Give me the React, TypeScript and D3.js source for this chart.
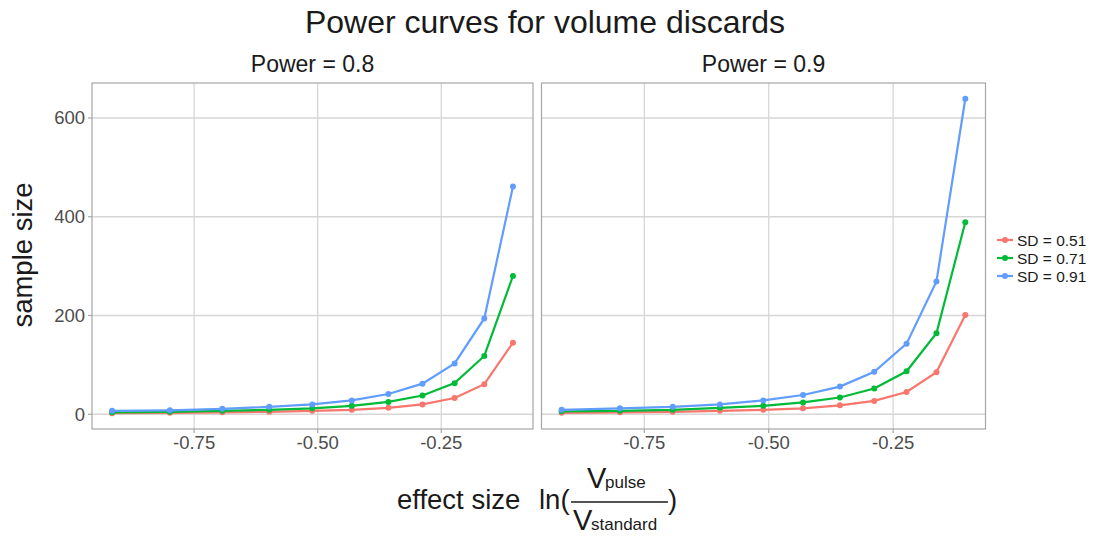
import React from "react";
import * as d3 from "d3";

const effectSizes = [-0.916, -0.799, -0.693, -0.598, -0.511, -0.431, -0.357, -0.288, -0.223, -0.163, -0.105];
const panels = ["Power = 0.8", "Power = 0.9"];
const seriesNames = ["SD = 0.51", "SD = 0.71", "SD = 0.91"];
const p08sd051 = [2, 3, 4, 5, 7, 9, 13, 20, 33, 61, 145];
const p08sd071 = [4, 5, 7, 9, 12, 17, 25, 38, 63, 118, 280];
const p08sd091 = [7, 8, 11, 15, 20, 28, 41, 62, 103, 194, 461];
const p09sd051 = [3, 4, 5, 7, 9, 12, 18, 27, 45, 85, 201];
const p09sd071 = [6, 7, 9, 13, 17, 24, 34, 52, 87, 164, 389];
const p09sd091 = [9, 12, 15, 20, 28, 39, 56, 86, 143, 269, 639];
const xTicks = [-0.75, -0.5, -0.25];
const yTicks = [0, 200, 400, 600];
const colors = ["#F8766D", "#00BA38", "#619CFF"];

const panelData = [
  [p08sd051, p08sd071, p08sd091],
  [p09sd051, p09sd071, p09sd091],
];

const FONT = "'Liberation Sans', Arial, Helvetica, sans-serif";

export default function App() {
  const top = 83;
  const bottom = 429;
  const panelRanges: [number, number][] = [
    [92, 533],
    [541.5, 985.5],
  ];
  const xExt = d3.extent(effectSizes) as [number, number];
  const xPad = (xExt[1] - xExt[0]) * 0.05;
  const allY = panelData.flat(2);
  const yExt = d3.extent(allY) as [number, number];
  const yPad = (yExt[1] - yExt[0]) * 0.05;
  const y = d3.scaleLinear().domain([yExt[0] - yPad, yExt[1] + yPad]).range([bottom, top]);
  const fmt = (v: number) => d3.format(".2f")(v).replace("\u2212", "-");

  return (
    <svg
      width={1112}
      height={538}
      style={{ position: "absolute", left: 0, top: 0, background: "#fff" }}
      fontFamily={FONT}
    >
      <rect width={1112} height={538} fill="#fff" />
      <text x={545} y={33} fontSize={32} textAnchor="middle" fill="#1a1a1a">
        Power curves for volume discards
      </text>
      {panelData.map((series, pi) => {
        const [x0, x1] = panelRanges[pi];
        const x = d3.scaleLinear().domain([xExt[0] - xPad, xExt[1] + xPad]).range([x0, x1]);
        const line = d3
          .line<number>()
          .x((_, i) => x(effectSizes[i]))
          .y((d) => y(d));
        return (
          <g key={pi}>
            <text x={(x0 + x1) / 2} y={72} fontSize={23} textAnchor="middle" fill="#1a1a1a">
              {panels[pi]}
            </text>
            {yTicks.map((t) => (
              <line key={"gy" + t} x1={x0} x2={x1} y1={y(t)} y2={y(t)} stroke="#d6d6d6" strokeWidth={1.3} />
            ))}
            {xTicks.map((t) => (
              <line key={"gx" + t} x1={x(t)} x2={x(t)} y1={top} y2={bottom} stroke="#d6d6d6" strokeWidth={1.3} />
            ))}
            {series.map((vals, si) => (
              <g key={si}>
                <path d={line(vals) || ""} fill="none" stroke={colors[si]} strokeWidth={2.2} />
                {vals.map((v, i) => (
                  <circle key={i} cx={x(effectSizes[i])} cy={y(v)} r={3} fill={colors[si]} />
                ))}
              </g>
            ))}
            <rect x={x0} y={top} width={x1 - x0} height={bottom - top} fill="none" stroke="#a6a6a6" strokeWidth={1.2} />
            {xTicks.map((t) => (
              <g key={"tx" + t}>
                <line x1={x(t)} x2={x(t)} y1={bottom} y2={bottom + 4} stroke="#a6a6a6" strokeWidth={1.2} />
                <text x={x(t)} y={449} fontSize={18.5} textAnchor="middle" fill="#4d4d4d">
                  {fmt(t)}
                </text>
              </g>
            ))}
          </g>
        );
      })}
      {yTicks.map((t) => (
        <g key={"ty" + t}>
          <line x1={88} x2={92} y1={y(t)} y2={y(t)} stroke="#a6a6a6" strokeWidth={1.2} />
          <text x={85} y={y(t) + 6.5} fontSize={18.5} textAnchor="end" fill="#4d4d4d">
            {t}
          </text>
        </g>
      ))}
      <text transform="translate(32,255) rotate(-90)" fontSize={27.5} textAnchor="middle" fill="#1a1a1a">
        sample size
      </text>
      <g fill="#1a1a1a">
        <text x={397} y={509} fontSize={27.5}>effect size</text>
        <text x={539} y={509} fontSize={27.5}>ln(</text>
        <text x={587} y={488} fontSize={29}>V</text>
        <text x={605} y={488} fontSize={17}>pulse</text>
        <line x1={571} x2={668} y1={502} y2={502} stroke="#1a1a1a" strokeWidth={1.3} />
        <text x={573} y={530} fontSize={29}>V</text>
        <text x={591} y={530} fontSize={17}>standard</text>
        <text x={668} y={509} fontSize={27.5}>)</text>
      </g>
      {seriesNames.map((name, i) => (
        <g key={name} transform={`translate(0,${240 + i * 18})`}>
          <line x1={997} x2={1013} y1={0} y2={0} stroke={colors[i]} strokeWidth={2.2} />
          <circle cx={1005} cy={0} r={3} fill={colors[i]} />
          <text x={1017} y={5.5} fontSize={15.5} fill="#1a1a1a">
            {name}
          </text>
        </g>
      ))}
    </svg>
  );
}
